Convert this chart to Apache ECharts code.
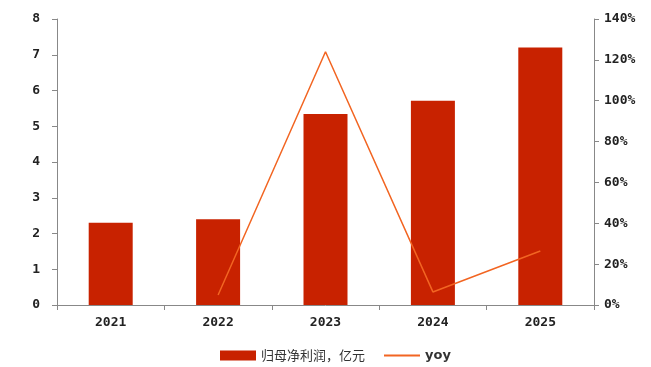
<!DOCTYPE html>
<html>
<head>
<meta charset="utf-8">
<script src="https://cdn.jsdelivr.net/npm/echarts@6/dist/echarts.min.js"></script>
<style>
  html, body { margin: 0; padding: 0; background: #fff; }
  #chart { width: 651px; height: 367px; }
</style>
</head>
<body>
<div id="chart"></div>
<script>
const years = ['2021', '2022', '2023', '2024', '2025']
const profit = [2.3, 2.4, 5.34, 5.71, 7.2]
const yoy = [null, 4.9, 124, 6.4, 26.4]
const profitTicks = [0, 8, 1]
const yoyTicks = [0, 140, 20]

const monoFont = 'DejaVu Sans Mono'
const labelStyle = { color: '#222', fontFamily: monoFont, fontWeight: 'bold', fontSize: 13 }

const chart = echarts.init(document.getElementById('chart'))

chart.setOption({
  animation: false,
  backgroundColor: '#fff',
  grid: { left: 57, right: 57, top: 19, bottom: 62, containLabel: false },
  legend: {
    bottom: 0,
    left: 215,
    itemGap: 18,
    textStyle: { color: '#333', fontSize: 13, fontFamily: 'Noto Sans CJK SC' },
    data: [
      { name: '归母净利润，亿元', icon: 'rect', itemStyle: { color: '#c82200' } },
      { name: 'yoy', itemStyle: { opacity: 0 }, textStyle: { fontWeight: 'bold', fontFamily: 'DejaVu Sans' } }
    ],
    itemWidth: 36,
    itemHeight: 10
  },
  xAxis: {
    type: 'category',
    data: years,
    axisLine: { lineStyle: { color: '#888', width: 1 } },
    axisTick: { show: true, alignWithLabel: false, length: 5, lineStyle: { color: '#888' } },
    axisLabel: Object.assign({ margin: 11 }, labelStyle),
    splitLine: { show: false }
  },
  yAxis: [
    {
      type: 'value',
      min: profitTicks[0],
      max: profitTicks[1],
      interval: profitTicks[2],
      axisLine: { show: true, lineStyle: { color: '#888' } },
      axisTick: { show: true, length: 5, lineStyle: { color: '#888' } },
      axisLabel: Object.assign({ margin: 17 }, labelStyle),
      splitLine: { show: false }
    },
    {
      type: 'value',
      min: yoyTicks[0],
      max: yoyTicks[1],
      interval: yoyTicks[2],
      axisLine: { show: true, lineStyle: { color: '#888' } },
      axisTick: { show: true, length: 5, lineStyle: { color: '#888' } },
      axisLabel: Object.assign({ margin: 10, formatter: '{value}%' }, labelStyle),
      splitLine: { show: false }
    }
  ],
  series: [
    {
      name: '归母净利润，亿元',
      type: 'bar',
      data: profit,
      barWidth: 44,
      itemStyle: { color: '#c82200' }
    },
    {
      name: 'yoy',
      type: 'line',
      yAxisIndex: 1,
      data: yoy,
      symbol: 'none',
      lineStyle: { color: '#f26522', width: 1.5 },
      itemStyle: { color: '#f26522' }
    }
  ]
})
</script>
</body>
</html>
